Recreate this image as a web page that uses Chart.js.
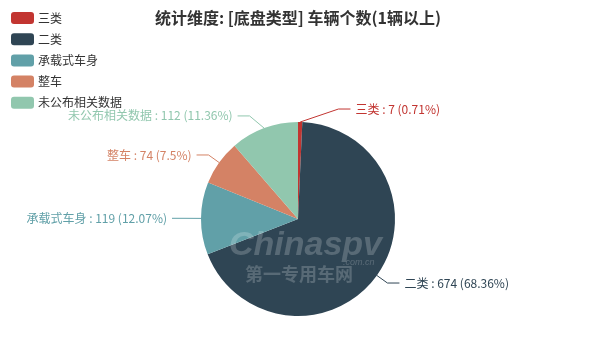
<!DOCTYPE html>
<html><head><meta charset="utf-8">
<script src="https://cdn.jsdelivr.net/npm/chart.js@4.4.1/dist/chart.umd.min.js"></script>
<style>html,body{margin:0;padding:0;background:#fff}#wrap{width:600px;height:356px}</style>
</head><body><div id="wrap"><canvas id="c" width="600" height="356"></canvas></div>
<script>
const titleText = '统计维度: [底盘类型] 车辆个数(1辆以上)';
const categories = ['三类', '二类', '承载式车身', '整车', '未公布相关数据'];
const values = [7, 674, 119, 74, 112];
const percents = ['0.71%', '68.36%', '12.07%', '7.5%', '11.36%'];
const colors = ['#c23531', '#2f4554', '#61a0a8', '#d48265', '#91c7ae'];

const FONT = '"Noto Sans CJK SC", "Microsoft YaHei", sans-serif';
// extra horizontal shift for labels pushed aside by layout (styling only)
const labelShift = [38, 0, -4, 0, -10];

const decor = {
  id: 'decor',
  afterDatasetsDraw(chart) {
    const ctx = chart.ctx;
    const meta = chart.getDatasetMeta(0);
    // watermark
    ctx.save();
    ctx.fillStyle = 'rgba(255,255,255,0.2)';
    ctx.textBaseline = 'alphabetic';
    ctx.font = 'italic bold 34px "Liberation Sans", Arial, sans-serif';
    ctx.textAlign = 'left';
    ctx.fillText('Chinaspv', 229, 255);
    ctx.font = 'italic 9px "Liberation Sans", Arial, sans-serif';
    ctx.fillText('.com.cn', 343, 265);
    ctx.font = 'bold 18px ' + FONT;
    ctx.fillText('第一专用车网', 245, 281);
    ctx.restore();

    // outside labels
    meta.data.forEach((arc, i) => {
      const p = arc.getProps(['x', 'y', 'startAngle', 'endAngle', 'outerRadius'], true);
      const mid = (p.startAngle + p.endAngle) / 2;
      const cos = Math.cos(mid), sin = Math.sin(mid);
      const r = p.outerRadius;
      const x0 = p.x + cos * r, y0 = p.y + sin * r;
      const right = cos >= 0 || labelShift[i] > 0;
      const x1 = p.x + cos * (r + 13) + labelShift[i];
      const y1 = p.y + sin * (r + 13);
      const x2 = x1 + (right ? 12 : -12);
      ctx.save();
      ctx.strokeStyle = colors[i];
      ctx.lineWidth = 1;
      ctx.beginPath();
      ctx.moveTo(x0, y0);
      ctx.lineTo(x1, y1);
      ctx.lineTo(x2, y1);
      ctx.stroke();
      ctx.fillStyle = colors[i];
      ctx.font = '12px ' + FONT;
      ctx.textBaseline = 'middle';
      ctx.textAlign = right ? 'left' : 'right';
      const txt = categories[i] + ' : ' + values[i] + ' (' + percents[i] + ')';
      ctx.fillText(txt, x2 + (right ? 5 : -5), y1);
      ctx.restore();
    });

    // title
    ctx.save();
    ctx.fillStyle = '#333';
    ctx.font = 'bold 16px ' + FONT;
    ctx.textAlign = 'center';
    ctx.textBaseline = 'middle';
    ctx.fillText(titleText, 298, 18);
    ctx.restore();

    // legend
    ctx.save();
    categories.forEach((c, i) => {
      const y = 12 + i * 21.2;
      ctx.fillStyle = colors[i];
      ctx.beginPath();
      ctx.roundRect(11, y, 23, 12, 3);
      ctx.fill();
      ctx.fillStyle = '#333';
      ctx.font = '12px ' + FONT;
      ctx.textAlign = 'left';
      ctx.textBaseline = 'middle';
      ctx.fillText(c, 38, y + 6);
    });
    ctx.restore();
  }
};

new Chart(document.getElementById('c'), {
  type: 'pie',
  data: {
    labels: categories,
    datasets: [{ data: values, backgroundColor: colors, borderWidth: 0, hoverOffset: 0 }]
  },
  options: {
    responsive: false,
    animation: false,
    layout: { padding: { top: 122, bottom: 40, left: 201, right: 205 } },
    plugins: { legend: { display: false }, tooltip: { enabled: false }, title: { display: false } }
  },
  plugins: [decor]
});
</script></body></html>
